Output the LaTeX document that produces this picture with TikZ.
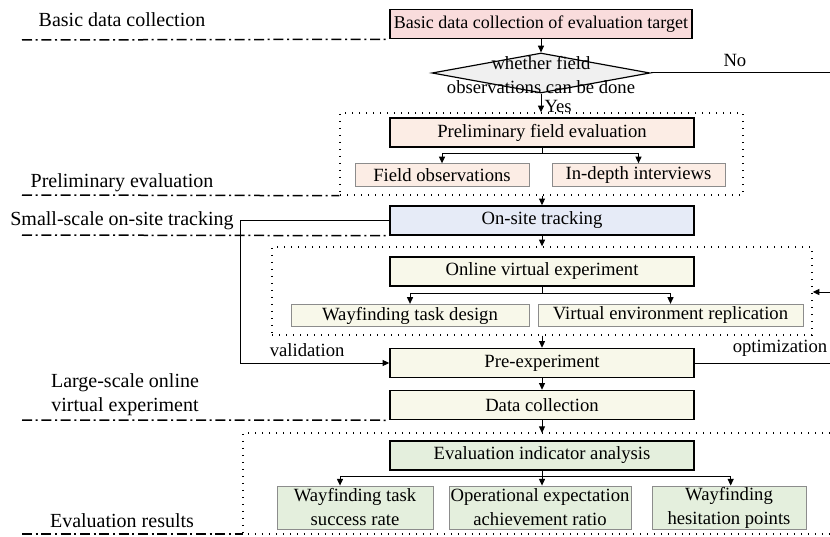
\documentclass[tikz,border=0pt]{standalone}
\usepackage{fontspec}
\setmainfont{Liberation Serif}
\usepackage{xcolor}
\usepackage{tikz}
\usetikzlibrary{arrows.meta,positioning,shapes.geometric,calc}
\definecolor{cpink}{HTML}{F9DCDC}
\definecolor{csalmon}{HTML}{FCEDE5}
\definecolor{cblue}{HTML}{E6EBF7}
\definecolor{ccream}{HTML}{F8F8EA}
\definecolor{cgreen}{HTML}{E4EFDD}
\definecolor{cgray}{HTML}{F0F0F0}
\tikzset{
  box/.style   = {draw=black, line width=0.9pt, align=center, inner sep=0pt,
                  minimum width=182.4pt, minimum height=17.4pt, font=\fs},
  sbox/.style  = {draw=black!45, line width=0.5pt, align=center, inner sep=0pt,
                  minimum height=13.5pt, font=\fs},
  dia/.style   = {shape=diamond, draw=black, line width=0.7pt, fill=cgray, inner sep=0pt,
                  minimum width=130.8pt, minimum height=24pt},
  grp/.style   = {draw=black, line width=0.8pt, dash pattern=on 0.8pt off 3.4pt},
  phase/.style = {draw=black, line width=0.9pt, dash pattern=on 6pt off 2.2pt on 1.2pt off 2.2pt},
  ar/.style    = {-{Triangle[length=4pt,width=3.6pt]}, line width=0.6pt},
  ln/.style    = {line width=0.6pt},
  lbl/.style   = {font=\fl, align=center},
}
\newcommand{\fs}{\fontsize{11.2}{14.4}\selectfont}
\newcommand{\fl}{\fontsize{12}{14.4}\selectfont}

\begin{document}
\begin{tikzpicture}[x=0.6pt,y=-0.6pt]
  \useasboundingbox (0,0) rectangle (830,536);
  % main column
  \node[box, fill=cpink, minimum width=181.2pt, font=\fontsize{10.8}{13}\selectfont] (bdc) at (541,24) {Basic data collection of evaluation target};
  \node[dia, label={[font=\fontsize{11.2}{14.6}\selectfont, align=center, yshift=-1.2pt]center:whether field\\observations can be done}] (obs) at (541,73) {};
  \node[box, fill=csalmon] (pfe) at (542,132.5) {Preliminary field evaluation};
  \node[sbox, fill=csalmon, minimum width=104.4pt] (fo) at (442,175) {Field observations};
  \node[sbox, fill=csalmon, minimum width=103.8pt] (idi) at (638.5,175) {In-depth interviews};
  \node[box, fill=cblue] (ost) at (542,220.5) {On-site tracking};
  \node[box, fill=ccream] (ove) at (542,271.5) {Online virtual experiment};
  \node[sbox, fill=ccream, minimum width=142.8pt] (wtd) at (410,315.5) {Wayfinding task design};
  \node[sbox, fill=ccream, minimum width=159pt] (ver) at (670.5,315.5) {Virtual environment replication};
  \node[box, fill=ccream] (pre) at (542,363) {Pre-experiment};
  \node[box, fill=ccream] (dc) at (542,405) {Data collection};
  \node[box, fill=cgreen] (eia) at (542,455.5) {Evaluation indicator analysis};
  \node[sbox, fill=cgreen, minimum width=93.6pt, minimum height=25.8pt] (er1) at (355,507.5) {Wayfinding task\\success rate};
  \node[sbox, fill=cgreen, minimum width=109.2pt, minimum height=25.8pt] (er2) at (540,507.5) {Operational expectation\\achievement ratio};
  \node[sbox, fill=cgreen, minimum width=92.4pt, minimum height=25.8pt] (er3) at (729,507.5) {Wayfinding\\hesitation points};

  % dotted groups
  \node[grp, minimum width=241.8pt, minimum height=49.2pt] (g1) at (541.5,154) {};
  \node[grp, minimum width=324pt, minimum height=52.8pt] (g2) at (542,291) {};
  \coordinate (g3ne) at (830,433);
  \coordinate (g3se) at (830,534);
  \coordinate (g3sw) at (243,534);
  \draw[grp] (g3ne) -| (g3sw) -- (g3se);

  % phase labels and separators
  \node[lbl] (p1) at (122,20) {Basic data collection};
  \node[lbl] (p2) at (122,183) {Preliminary evaluation};
  \node[lbl] (p3) at (122,221) {Small-scale on-site tracking};
  \node[lbl] (p4) at (125,395) {Large-scale online\\virtual experiment};
  \node[lbl] (p5) at (122,521) {Evaluation results};
  \draw[phase] (22,40) -- (bdc.south west);
  \draw[phase] (22,195) -- (g1.south west);
  \draw[phase] (22,235) -- (ost.south west);
  \draw[phase] (22,420) -- (dc.south west);
  \draw[phase] (22,534) -- (g3sw);

  % flow
  \draw[ar] (bdc) -- (obs);
  \draw[ar] (obs.south) -- (obs.south |- g1.north) node[pos=0.68, right=-1.5pt, inner ysep=1pt, font=\fs] {Yes};
  \draw[ar] (pfe.south) -- ++(0,6) -| (fo.north);
  \draw[ar] (pfe.south) -- ++(0,6) -| (idi.north);
  \draw[ar] (g1.south -| ost.north) -- (ost.north);
  \draw[ar] (ost.south) -- (ost.south |- g2.north);
  \draw[ar] (ove.south) -- ++(0,7) -| (wtd.north);
  \draw[ar] (ove.south) -- ++(0,7) -| (ver.north);
  \draw[ar] (g2.south -| pre.north) -- (pre.north);
  \draw[ar] (pre) -- (dc);
  \draw[ar] (dc.south) -- (dc.south |- g3ne);
  \draw[ar] (eia.south) -- ++(0,6) -| ([xshift=-9pt]er1.north);
  \draw[ar] (eia.south) -- (er2.north -| eia.south);
  \draw[ar] (eia.south) -- ++(0,6) -| ([xshift=1pt]er3.north);

  % feedback loops
  \coordinate (vl) at (240,363);
  \draw[ar] (ost.west) -| (vl) -- (pre.west) node[pos=0.45, above, font=\fs] {validation};
  \coordinate (noe) at (830,73);
  \draw[ln] (obs.east) -- (noe) node[pos=0.47, above, font=\fs] {No};
  \coordinate (ope) at (830,363);
  \draw[ln] (pre.east) -- (ope) node[pos=0.63, above, font=\fs] {optimization};
  \coordinate (ine) at (830,292);
  \draw[ar] (ine) -- (g2.east |- ine);
\end{tikzpicture}
\end{document}
